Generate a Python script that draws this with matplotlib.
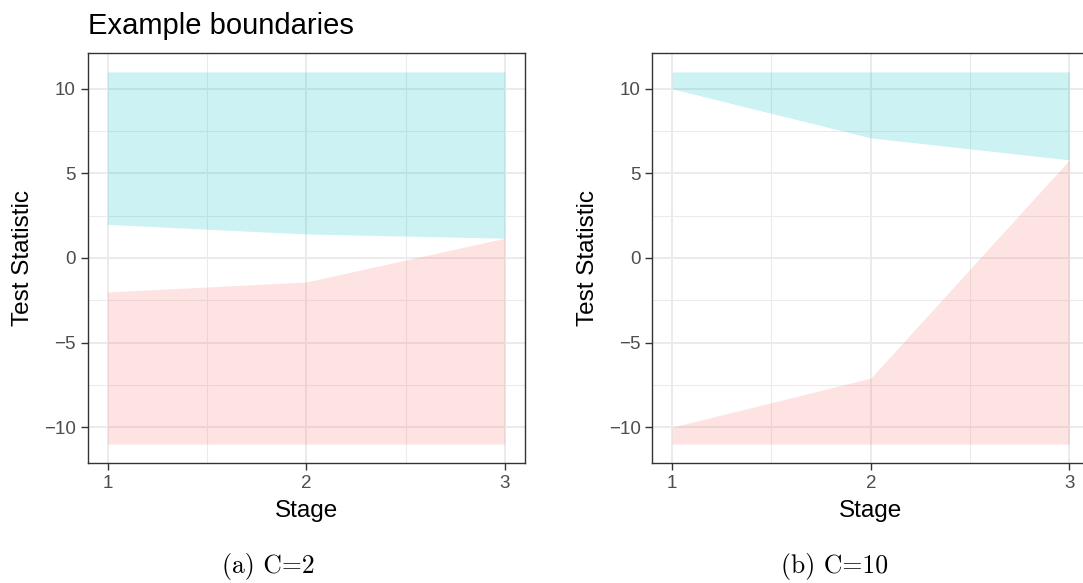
import matplotlib
matplotlib.use('Agg')
import matplotlib.pyplot as plt

# ---- data ----
stages = [1, 2, 3]
c2_upper = [1.99, 1.42, 1.17]
c2_lower = [-2.01, -1.42, 1.17]
c10_upper = [10.0, 7.1, 5.8]
c10_lower = [-10.0, -7.1, 5.8]
outer_top = [11, 11, 11]
outer_bottom = [-11, -11, -11]
x_ticks = [1, 2, 3]
x_minor = [1.5, 2.5]
y_ticks = [-10, -5, 0, 5, 10]
y_minor = [-7.5, -2.5, 2.5, 7.5]
captions = ['(a) C=2', '(b) C=10']
title = 'Example boundaries'

plt.rcParams['font.family'] = ['Liberation Sans', 'DejaVu Sans']
plt.rcParams['axes.unicode_minus'] = True

W, H = 1083, 583
fig = plt.figure(figsize=(W / 100, H / 100), dpi=100)


def px_axes(x0, x1, y0, y1):
    return fig.add_axes([x0 / W, 1 - y1 / H, (x1 - x0) / W, (y1 - y0) / H])


panels = [
    (87.7, 524.7, c2_upper, c2_lower, 268, captions[0]),
    (652.3, 1089.3, c10_upper, c10_lower, 835, captions[1]),
]

for (x0, x1, up, lo, cap_x, cap) in panels:
    ax = px_axes(x0, x1, 53.3, 462.7)
    ax.set_xlim(0.9, 3.1)
    ax.set_ylim(-12.1, 12.1)
    ax.set_axisbelow(True)
    ax.set_xticks(x_ticks)
    ax.set_yticks(y_ticks)
    ax.set_xticks(x_minor, minor=True)
    ax.set_yticks(y_minor, minor=True)
    ax.grid(which='major', color='#EBEBEB', lw=1.4)
    ax.grid(which='minor', color='#EBEBEB', lw=0.75)
    ax.tick_params(which='minor', length=0)
    ax.tick_params(which='major', length=5, width=1.0, color='#333333',
                   labelsize=13.5, labelcolor='#4D4D4D', pad=3.5)
    ax.set_yticklabels(['\u221210', '\u22125', '0', '5', '10'])
    for s in ax.spines.values():
        s.set_color('#333333')
        s.set_linewidth(1.0)

    ax.fill_between(stages, up, outer_top, color='#00BFC4', alpha=0.2, lw=0)
    ax.fill_between(stages, outer_bottom, lo, color='#F8766D', alpha=0.2, lw=0)

    # axis titles
    fig.text((x0 + x1) / 2 / W if x1 < W else (x0 + x1) / 2 / W, 1 - 516.7 / H, 'Stage',
             fontsize=17.5, ha='center', va='baseline')
    fig.text((x0 - 64.5) / W, 1 - 258 / H, 'Test Statistic', fontsize=17.5,
             rotation=90, ha='center', va='center')
    fig.text(cap_x / W, 1 - 566 / H, cap, family='cmr10', fontsize=18.5,
             ha='center', va='center')

fig.text(88 / W, 1 - 34.5 / H, title, fontsize=21, ha='left', va='baseline')

fig.savefig('out.png', dpi=100)
